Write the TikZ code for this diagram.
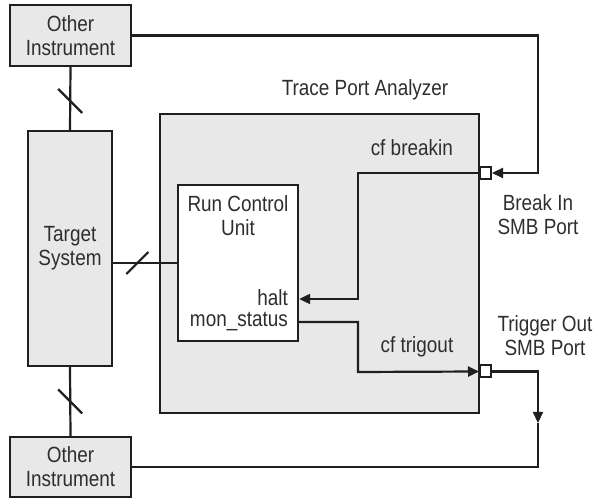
\documentclass[tikz,border=0pt]{standalone}
\usepackage{fontspec}
\setmainfont[FakeStretch=0.86]{Liberation Sans}
\usetikzlibrary{arrows.meta,positioning,calc}
\colorlet{colorBox}{gray!18}
\colorlet{colorLine}{black!88}
\colorlet{colorText}{black!82}
\tikzset{
   every path/.style={>={Triangle[length=11pt,width=10pt]}},
   box/.style={rectangle, draw=colorLine, line width=2.4pt, fill=colorBox, inner sep=0pt, align=center, text=colorText},
   port/.style={rectangle, draw=colorLine, line width=2pt, fill=white, minimum width=11pt, minimum height=12pt, inner sep=0pt},
   sig/.style={draw=colorLine, line width=2.2pt},
   lbl/.style={text=colorText, align=center, inner sep=1pt},
}

\begin{document}
\begin{tikzpicture}[x=1pt, y=-1pt, font=\fontsize{22}{24}\selectfont]
  \useasboundingbox (0,0) rectangle (598,502);

  \node [box, minimum width=121pt, minimum height=61pt] (oitop) at (70.5,35.5) {Other\\Instrument};
  \node [box, minimum width=84pt, minimum height=235pt] (target) at (70,248.5) {Target\\System};
  \node [box, minimum width=121pt, minimum height=60pt] (oibot) at (70.5,467) {Other\\Instrument};
  \node [box, minimum width=319pt, minimum height=299pt] (tpa) at (319.5,263.5) {};
  \node [box, fill=white, minimum width=120pt, minimum height=156pt] (rcu) at (238,263) {};

  \node [lbl] (tpalbl) at (365,90) {Trace Port Analyzer};
  \node [lbl] (rcutitle) at (238,216) {Run Control\\Unit};
  \node [lbl, anchor=east] (halt) at (289,298) {halt};
  \node [lbl, anchor=east] (monstatus) at (289,322) {mon\_status};
  \node [lbl, anchor=east] (cfbreakin) at (454,148) {cf breakin};
  \node [lbl] (cftrigout) at (417,347) {cf trigout};

  \node [port] (bkport) at (485.5,173) {};
  \node [port] (tgport) at (485.5,371.5) {};
  \node [lbl] (bklbl) at (538,215) {Break In\\SMB Port};
  \node [lbl] (tglbl) at (545,336) {Trigger Out\\SMB Port};

  \coordinate (bkturn) at (538,173);
  \coordinate (bkdrop) at (358,299);
  \coordinate (mondrop) at (358,372);
  \coordinate (tgmid) at (538,423);

  % buses to the target
  \draw [sig] (oitop.south) -- (target.north) coordinate [pos=0.54] (busa);
  \draw [sig] (target.south) -- (oibot.north) coordinate [pos=0.5] (busb);
  \draw [sig] (target.east |- rcu.west) -- (rcu.west) coordinate [pos=0.38] (busc);
  \draw [sig] (busa) +(-12,-12) -- +(12,12);
  \draw [sig] (busb) +(-12,-12) -- +(12,12);
  \draw [sig] (busc) +(-11,11) -- +(11,-11);

  % break in / trigger out
  \draw [sig, ->] (oitop.east) -| (bkturn) -- (bkport.east);
  \draw [sig, ->] (bkport.west) -| (bkdrop) -- (rcu.east |- bkdrop);
  \draw [sig, ->] (rcu.east |- monstatus) -| (mondrop) -- (tgport.west);
  \draw [sig, ->] (tgport.east) -| (tgmid);
  \draw [sig] (tgmid) |- (oibot.east);
\end{tikzpicture}
\end{document}
